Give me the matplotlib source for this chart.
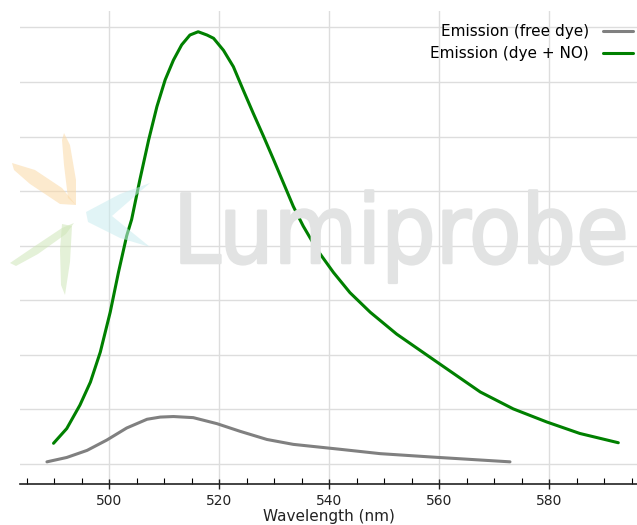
import numpy as np
import matplotlib
matplotlib.use("Agg")
import matplotlib.pyplot as plt
import matplotlib.patheffects as pe
from matplotlib.patches import Polygon
from matplotlib import font_manager

# Спектры излучения (длина волны, нм / интенсивность в условных единицах)
free_wl = [488.7, 492.3, 496.0, 499.6, 503.2, 506.9, 509.3, 511.7, 515.3, 519.6,
           523.8, 528.7, 533.5, 542.0, 549.3, 558.4, 572.9]
free_em = [0.04, 0.12, 0.25, 0.44, 0.66, 0.82, 0.86, 0.87, 0.85, 0.74,
           0.60, 0.45, 0.36, 0.27, 0.19, 0.13, 0.04]

no_wl = [489.9, 492.3, 494.7, 496.6, 498.4, 500.2, 501.7, 503.2, 504.1, 505.6,
         507.2, 508.7, 510.2, 511.7, 513.2, 514.7, 516.2, 517.8, 519.0, 520.8,
         522.6, 524.4, 526.2, 528.1, 529.9, 531.7, 533.5, 535.3, 537.8, 540.8,
         543.8, 547.5, 552.3, 559.6, 567.5, 573.5, 579.6, 585.6, 592.6]
no_em = [0.38, 0.65, 1.08, 1.50, 2.05, 2.78, 3.51, 4.18, 4.48, 5.21,
         5.94, 6.55, 7.04, 7.40, 7.68, 7.86, 7.92, 7.86, 7.80, 7.58,
         7.28, 6.85, 6.43, 6.00, 5.58, 5.15, 4.72, 4.36, 3.93, 3.51,
         3.14, 2.78, 2.38, 1.87, 1.32, 1.01, 0.77, 0.56, 0.39]

x_ticks = [500, 520, 540, 560, 580]

W, H = 637, 525
fig = plt.figure(figsize=(W / 100, H / 100), dpi=100)
ax = fig.add_axes([20 / W, 1 - 484 / H, 1 - 20 / W, (484 - 11) / H])


def fpts(pts):
    return [(x / W, 1 - y / H) for x, y in pts]


# Бледный логотип-водяной знак
petals = [
    ([(12, 163), (35, 170), (62, 188), (76, 205), (60, 204), (30, 184), (14, 170)], "#fbd9a6"),
    ([(64, 133), (70, 145), (76, 180), (76, 205), (68, 198), (64, 165), (62, 140)], "#fbd9a6"),
    ([(10, 263), (35, 246), (62, 228), (74, 223), (66, 234), (38, 254), (16, 266)], "#cfe6b8"),
    ([(62, 224), (72, 226), (70, 262), (65, 295), (61, 285), (60, 250)], "#cfe6b8"),
    ([(150, 183), (120, 194), (86, 212), (88, 222), (120, 238), (150, 247), (112, 216)], "#c9ecef"),
]
for pts, c in petals:
    fig.patches.append(Polygon(fpts(pts), closed=True, transform=fig.transFigure,
                               facecolor=c, edgecolor="none", alpha=0.55, zorder=0))

names = {f.name for f in font_manager.fontManager.ttflist}
wm_family = "Liberation Sans Narrow" if "Liberation Sans Narrow" in names else "DejaVu Sans"
wm = fig.text(173 / W, 1 - 263 / H, "Lumiprobe", fontsize=100, color="#e2e3e3",
              family=wm_family, fontstretch="condensed",
              ha="left", va="baseline", zorder=0,
              path_effects=[pe.withStroke(linewidth=1.8, foreground="#e2e3e3")])
# подогнать ширину надписи под ~456 px
fig.canvas.draw()
wpx = wm.get_window_extent().width
wm.set_fontsize(100 * 456 / wpx)

ax.set_facecolor("none")
ax.plot(free_wl, free_em, color="#808080", lw=2.2, label="Emission (free dye)",
        solid_capstyle="round", solid_joinstyle="round")
ax.plot(no_wl, no_em, color="#008000", lw=2.2, label="Emission (dye + NO)",
        solid_capstyle="round", solid_joinstyle="round")

ax.set_xlim(483.8, 596)
ax.set_ylim(-0.366, 8.30)
ax.set_xticks(x_ticks)
ax.set_xticks(np.arange(485, 596, 5), minor=True)
ax.set_yticks(range(0, 9))
ax.tick_params(axis="y", length=0, labelleft=False)
ax.tick_params(axis="x", which="major", direction="inout", length=7, width=1,
               labelsize=10, colors="#222222")
ax.tick_params(axis="x", which="minor", direction="in", length=4, width=0.8)
ax.grid(True, color="#dddddd", lw=1)
ax.set_axisbelow(True)

for s in ["left", "right", "top"]:
    ax.spines[s].set_visible(False)
ax.spines["bottom"].set_color("#222222")
ax.spines["bottom"].set_linewidth(1.2)

ax.set_xlabel("Wavelength (nm)", fontsize=11, color="#222222", labelpad=1)

ax.legend(loc="upper right", frameon=False, markerfirst=False, fontsize=11,
          handlelength=2.0, handletextpad=0.9, borderaxespad=0.0, labelspacing=0.45,
          bbox_to_anchor=(1.004, 0.985))

fig.savefig("out.png", dpi=100)
